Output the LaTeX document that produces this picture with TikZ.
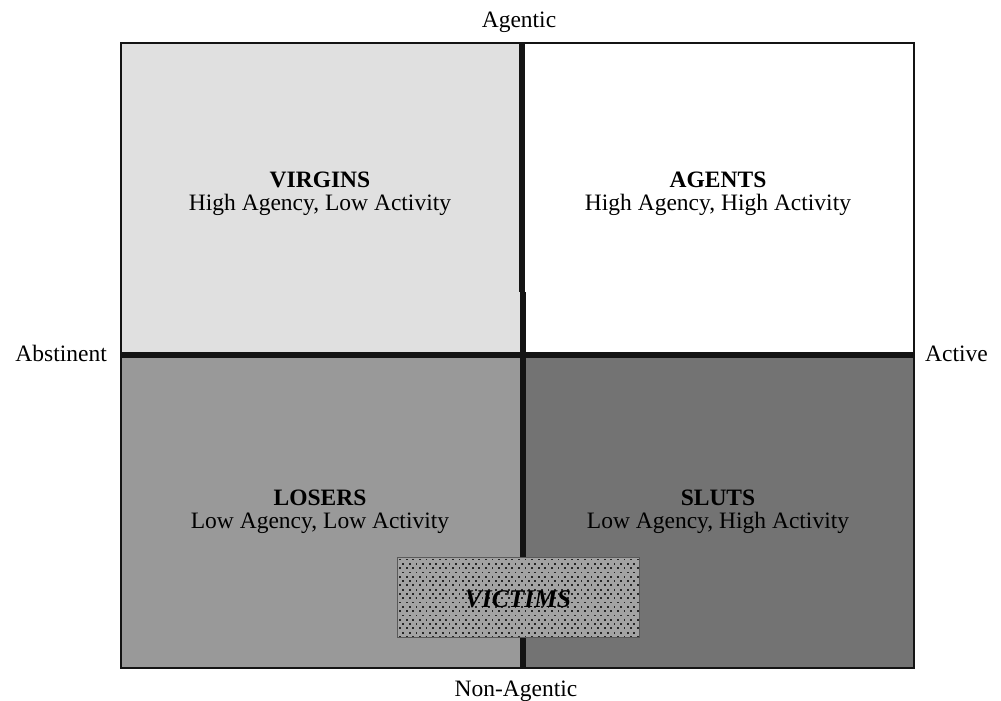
\documentclass[tikz,border=0pt]{standalone}
\usepackage{fontspec}
\setmainfont{Liberation Serif}
\begin{document}
\begin{tikzpicture}[x=1pt,y=-1pt,
  txt/.style={font=\fontsize{23.5}{25}\selectfont, inner sep=0pt, anchor=base},
  divider/.style={line width=6pt, draw=black!92},
]
\useasboundingbox (0,0) rectangle (1001,701);

% quadrant fills
\fill[black!12] (121,43) rectangle (522,355);
\fill[white]    (522,43) rectangle (914,355);
\fill[black!40] (121,355) rectangle (522,668);
\fill[black!55] (522,355) rectangle (914,668);

% frame and dividing axes
\draw[line width=2.5pt, draw=black!92] (121,43) rectangle (914,668);
\draw[divider] (522,43) -- (522,292);
\draw[divider] (522.7,292) -- (522.7,668);
\draw[divider] (121,355) -- (914,355);

% axis labels
\node[txt] (agentic) at (519,28) {Agentic};
\node[txt] (nonagentic) at (516,696) {Non-Agentic};
\node[txt, anchor=base east] (abstinent) at (107,361) {Abstinent};
\node[txt, anchor=base west] (active) at (925,361) {Active};

% quadrant labels
\node[txt] (virgins) at (320,187) {\textbf{VIRGINS}};
\node[txt] (virginsdesc) at (320,210) {High Agency, Low Activity};
\node[txt] (agents) at (718,187) {\textbf{AGENTS}};
\node[txt] (agentsdesc) at (718,210) {High Agency, High Activity};
\node[txt] (losers) at (320,505) {\textbf{LOSERS}};
\node[txt] (losersdesc) at (320,528) {Low Agency, Low Activity};
\node[txt] (sluts) at (718,505) {\textbf{SLUTS}};
\node[txt] (slutsdesc) at (718,528) {Low Agency, High Activity};

% overlapping dotted box
\fill[black!36] (397,557) rectangle (639,637);
\begin{scope}
  \clip (397,557) rectangle (639,637);
  \foreach \r in {0,...,19} {
    \foreach \c in {0,...,37} {
      \pgfmathsetmacro{\xx}{400 + 6.6*\c + 3.3*mod(\r,2)}
      \pgfmathsetmacro{\yy}{559.5 + 4.3*\r}
      \fill[black!85] (\xx-0.9,\yy-0.9) rectangle (\xx+0.9,\yy+0.9);
    }
  }
\end{scope}
\draw[line width=1pt, draw=black!65] (397,557) rectangle (639,637);
\node[txt, font=\fontsize{25.5}{27}\selectfont] (victims) at (518,607) {\textbf{\textit{VICTIMS}}};
\end{tikzpicture}
\end{document}
